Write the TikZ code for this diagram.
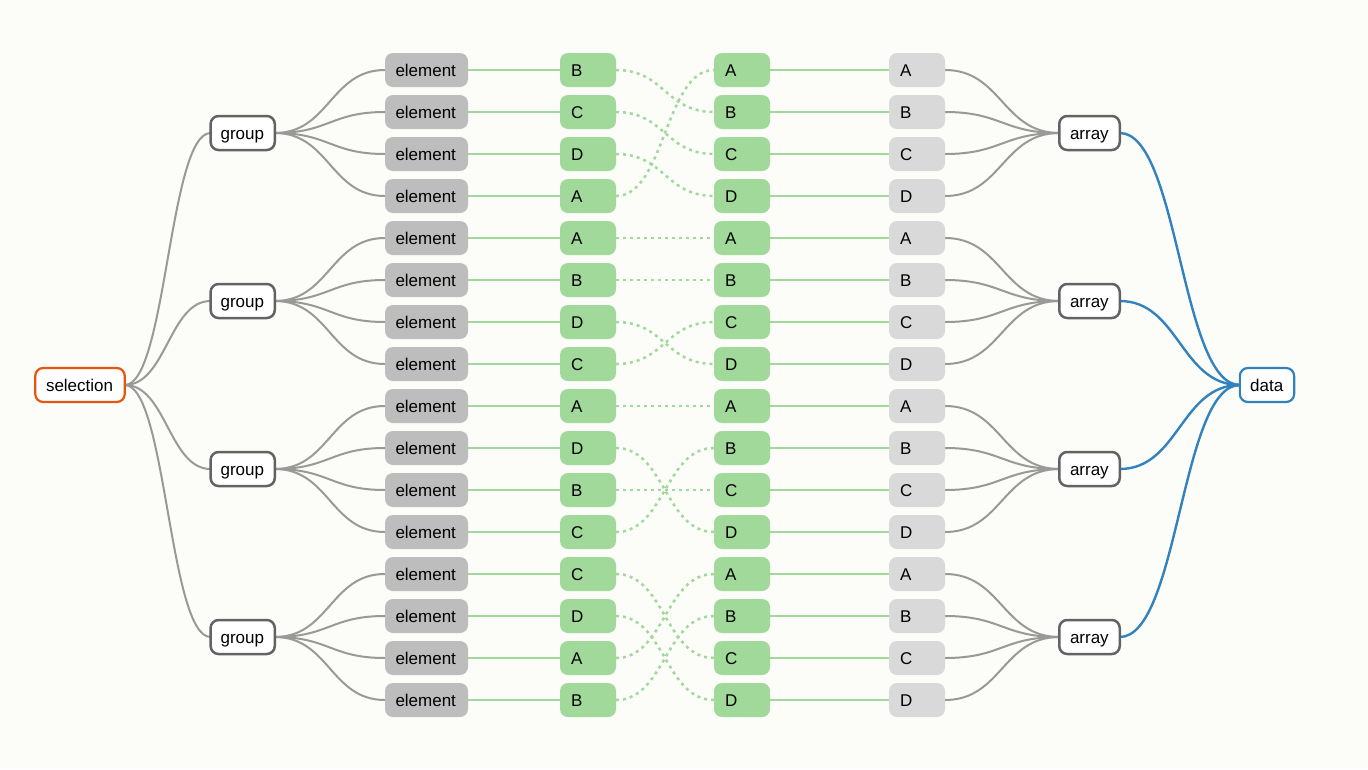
\documentclass[tikz,border=0pt]{standalone}
\usepackage{fontspec}
\setmainfont{Liberation Sans}
\usetikzlibrary{backgrounds}
\definecolor{bgc}{RGB}{252,252,249}
\definecolor{elgray}{RGB}{189,189,189}
\definecolor{lgreen}{RGB}{161,217,155}
\definecolor{lgray}{RGB}{217,217,217}
\definecolor{linkgray}{RGB}{153,153,153}
\definecolor{dgray}{RGB}{99,99,99}
\definecolor{dorange}{RGB}{230,85,13}
\definecolor{dblue}{RGB}{49,130,189}
\tikzset{
  basebox/.style={rectangle, rounded corners=8pt, inner ysep=0pt, minimum height=34pt,
    text height=12.2pt, text depth=0pt, align=left, outer sep=0pt},
  elbox/.style={basebox, fill=elgray, inner xsep=10.5pt, text width=62pt},
  lbox/.style={basebox, fill=lgreen, inner xsep=11pt, text width=34pt},
  tbox/.style={basebox, fill=lgray, inner xsep=11pt, text width=34pt},
  grpbox/.style={basebox, fill=white, draw=dgray, line width=2.5pt, inner xsep=10pt, text width=44.2pt},
  arrbox/.style={basebox, fill=white, draw=dgray, line width=2.5pt, inner xsep=10.75pt, text width=39pt},
  selbox/.style={basebox, fill=white, draw=dorange, line width=2.2pt, inner xsep=10.75pt, text width=68pt},
  databox/.style={basebox, fill=white, draw=dblue, line width=2.2pt, inner xsep=10.3pt, text width=33.7pt},
  glink/.style={draw=linkgray, line width=2pt},
  blink/.style={draw=dblue, line width=2.4pt},
  slink/.style={draw=lgreen, line width=2pt},
  dlink/.style={draw=lgreen, line width=2.5pt, dash pattern=on 3pt off 4pt},
}
\begin{document}
\begin{tikzpicture}[x=1pt,y=-1pt,font=\fontsize{17}{20}\selectfont]
\begin{scope}[on background layer]
\fill[bgc] (0,0) rectangle (1368,769);
\end{scope}
\useasboundingbox (0,0) rectangle (1368,769);

\node[selbox] (sel) at (80,385) {selection};
\node[databox] (data) at (1267,385) {data};

\foreach \g in {0,1,2,3}{
  \pgfmathsetmacro{\gy}{133+168*\g}
  \node[grpbox] (g\g) at (242.7,\gy) {group};
  \node[arrbox] (a\g) at (1089.5,\gy) {array};
}

\foreach \i/\L/\R in {0/B/A,1/C/B,2/D/C,3/A/D,4/A/A,5/B/B,6/D/C,7/C/D,8/A/A,9/D/B,10/B/C,11/C/D,12/C/A,13/D/B,14/A/C,15/B/D}{
  \pgfmathsetmacro{\ry}{70+42*\i}
  \node[elbox] (e\i) at (426.5,\ry) {element};
  \node[lbox] (l\i) at (588,\ry) {\L};
  \node[lbox] (r\i) at (742,\ry) {\R};
  \node[tbox] (t\i) at (917,\ry) {\R};
}

\begin{scope}[on background layer]
\foreach \g in {0,1,2,3}{
  \draw[glink] (sel.east) .. controls +(41.5,0) and +(-41.5,0) .. (g\g.west);
  \draw[blink] (a\g.east) .. controls +(59,0) and +(-59,0) .. (data.west);
  \foreach \k in {0,1,2,3}{
    \pgfmathtruncatemacro{\i}{4*\g+\k}
    \draw[glink] (g\g.east) .. controls +(54.5,0) and +(-54.5,0) .. (e\i.west);
    \draw[glink] (t\i.east) .. controls +(56.5,0) and +(-56.5,0) .. (a\g.west);
  }
}
\foreach \i in {0,...,15}{
  \draw[slink] (e\i.east) -- (l\i.west);
  \draw[slink] (r\i.east) -- (t\i.west);
}
\foreach \i/\j in {0/1,1/2,2/3,3/0,4/4,5/5,6/7,7/6,8/8,9/11,10/10,11/9,12/14,13/15,14/12,15/13}{
  \draw[dlink] (l\i.east) .. controls +(49,0) and +(-49,0) .. (r\j.west);
}
\end{scope}
\end{tikzpicture}
\end{document}
